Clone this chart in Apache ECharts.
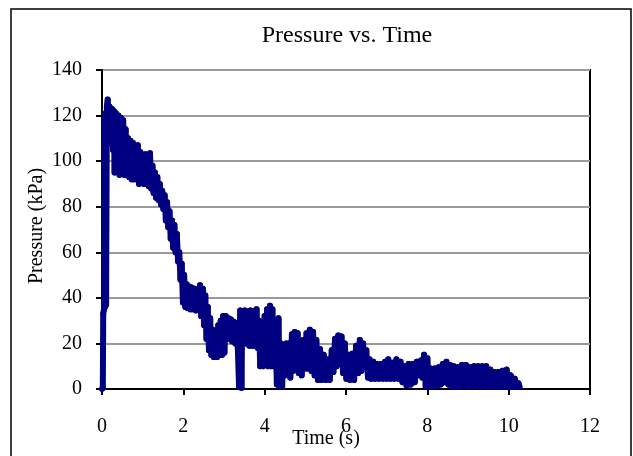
<!DOCTYPE html>
<html>
<head>
<meta charset="utf-8">
<script src="https://cdn.jsdelivr.net/npm/echarts@6/dist/echarts.min.js"></script>
<style>html,body{margin:0;padding:0;background:#fff}#c{width:633px;height:456px}</style>
</head>
<body>
<div id="c"></div>
<script>
const chartTitle = "Pressure vs. Time";
const xTitle = "Time (s)";
const yTitle = "Pressure (kPa)";
const xTicks = [0, 2, 4, 6, 8, 10, 12];
const yTicks = [0, 20, 40, 60, 80, 100, 120, 140];

const times = [
0.00,0.02,0.03,0.05,0.06,0.07,0.09,0.10,0.12,0.14,
0.16,0.18,0.21,0.24,0.27,0.29,0.31,0.34,0.37,0.40,
0.43,0.46,0.49,0.52,0.55,0.58,0.61,0.64,0.67,0.70,
0.73,0.76,0.79,0.82,0.85,0.88,0.91,0.94,0.97,1.00,
1.03,1.06,1.09,1.12,1.15,1.18,1.21,1.24,1.27,1.30,
1.33,1.36,1.39,1.42,1.45,1.48,1.51,1.54,1.57,1.60,
1.63,1.66,1.69,1.72,1.75,1.78,1.81,1.84,1.87,1.90,
1.93,1.96,1.99,2.02,2.05,2.08,2.11,2.14,2.17,2.20,
2.23,2.27,2.31,2.35,2.38,2.41,2.44,2.48,2.51,2.54,
2.57,2.60,2.63,2.66,2.69,2.72,2.75,2.79,2.83,2.86,
2.89,2.92,2.95,2.98,3.01,3.04,3.07,3.11,3.14,3.17,
3.20,3.24,3.28,3.31,3.34,3.37,3.40,3.43,3.45,3.48,
3.51,3.55,3.58,3.62,3.65,3.69,3.72,3.76,3.80,3.83,
3.86,3.89,3.92,3.96,4.00,4.03,4.06,4.09,4.13,4.16,
4.19,4.22,4.26,4.30,4.34,4.37,4.40,4.43,4.46,4.49,
4.53,4.57,4.60,4.63,4.67,4.70,4.74,4.77,4.81,4.84,
4.88,4.91,4.95,4.99,5.03,5.07,5.11,5.15,5.19,5.23,
5.27,5.31,5.36,5.40,5.45,5.50,5.55,5.60,5.65,5.69,
5.73,5.77,5.81,5.85,5.89,5.93,5.97,6.01,6.05,6.10,
6.15,6.20,6.25,6.30,6.34,6.38,6.42,6.46,6.50,6.54,
6.58,6.62,6.67,6.71,6.76,6.81,6.86,6.91,6.96,7.00,
7.04,7.09,7.14,7.19,7.24,7.29,7.34,7.39,7.44,7.49,
7.54,7.59,7.64,7.69,7.74,7.79,7.84,7.88,7.92,7.96,
8.00,8.04,8.08,8.13,8.18,8.23,8.28,8.33,8.38,8.43,
8.47,8.52,8.56,8.60,8.65,8.70,8.75,8.80,8.85,8.90,
8.95,9.00,9.05,9.10,9.15,9.20,9.25,9.30,9.35,9.40,
9.45,9.50,9.55,9.60,9.65,9.70,9.75,9.80,9.85,9.90,
9.95,10.00,10.05,10.10,10.15,10.20,10.24,10.27
];

const pressures = [
0,0.5,33,35,119,36,121,37,124,127,
110,124,108,123,105,122,95,121,96,120,
94,119,95,118,94,114,94,110,93,109,
92,108,92,105,92,107,90,104,91,101,
90,103,90,99,89,103.5,88,98,86,95,
84,93,83,90,81,87,79,85,74,82,
71,78,66,74,62,72,60,68,56,60,
48,55,38,50,36,46,35.5,45,35,44.5,
35,44,34.5,44,35,45.5,32,44,28,41,
22,36,17,31,15,26,14,23,14,28,
15,30,15,32,16,32,22,31,22,30.5,
21,29.5,20,29,18,1,34.5,0.5,34,20,
34.5,20,34,19,34.5,19,34,19,35,18,
30,10,29,10,32,11,35,10,36.5,10,
35,10,30,2,31,1,20,1,18,6,
20,10,20,5,24,8,25,10,24.5,7,
21,6,21.5,9,24.5,9,26,8,25,6,
21.5,4,17.5,4,15,4,13,4,17,7.5,
22,10,23.5,11,23,7,20,4.5,15,4,
15.5,4,19,7,21.5,8,20,10,17,5,
13,4.5,12,4.5,11,4.5,11,4.5,12,4.5,
13,4.5,11.5,4.5,13,4.5,12,3,10,1.5,
11,2,11,3,12,6,12.5,5,15,1,
13.5,1,9,1,9,1,9.5,2,11,3,
12,2,10.5,1,10,1,9.5,1,10.5,1.5,
10.5,1,9.5,1,10,1.5,10,1,10,1.5,
10,1,8.5,1,7.5,1,7.5,1,8,1,
8.5,1,6,1,4.5,1,2.5,1
];

// consecutive sample pairs -> segments [t0, p0, t1, p1]
const segments = [];
for (let i = 1; i < times.length; i++) {
  segments.push([times[i - 1], pressures[i - 1], times[i], pressures[i]]);
}
const serif = '"Liberation Serif","Times New Roman",serif';
const lineColor = '#000080';

const chart = echarts.init(document.getElementById('c'), null, {renderer: 'canvas'});
chart.setOption({
  animation: false,
  backgroundColor: '#fff',
  grid: {left: 102, right: 43, top: 70, bottom: 67, show: true, borderColor: '#000', borderWidth: 2, backgroundColor: 'transparent'},
  xAxis: {
    type: 'value', min: xTicks[0], max: xTicks[xTicks.length - 1], interval: 2,
    axisLine: {show: true, lineStyle: {color: '#000', width: 2}},
    axisTick: {show: true, length: 6, lineStyle: {color: '#000', width: 2}},
    axisLabel: {margin: 28, fontFamily: serif, fontSize: 20, color: '#000'},
    splitLine: {show: false}
  },
  yAxis: {
    type: 'value', min: yTicks[0], max: yTicks[yTicks.length - 1], interval: 20,
    axisLine: {show: true, lineStyle: {color: '#000', width: 2}},
    axisTick: {show: true, length: 6, lineStyle: {color: '#000', width: 2}},
    axisLabel: {margin: 20, fontFamily: serif, fontSize: 20, color: '#000'},
    splitLine: {show: true, lineStyle: {color: '#9a9a9a', width: 2}}
  },
  graphic: [
    {type: 'rect', shape: {x: 11, y: 9, width: 620, height: 470}, style: {fill: 'none', stroke: '#000', lineWidth: 1.5}, z: -1},
    {type: 'text', x: 347, y: 36, style: {text: chartTitle, fontFamily: serif, fontSize: 24, fill: '#000', textAlign: 'center', textVerticalAlign: 'middle'}},
    {type: 'text', x: 326, y: 439, style: {text: xTitle, fontFamily: serif, fontSize: 20, fill: '#000', textAlign: 'center', textVerticalAlign: 'middle'}},
    {type: 'text', x: 37, y: 226, rotation: Math.PI / 2, style: {text: yTitle, fontFamily: serif, fontSize: 20, fill: '#000', textAlign: 'center', textVerticalAlign: 'middle'}}
  ],
  series: [{
    type: 'custom',
    data: segments,
    encode: {x: [0, 2], y: [1, 3]},
    clip: false,
    z: 5,
    renderItem: function (params, api) {
      const a = api.coord([api.value(0), api.value(1)]);
      const b = api.coord([api.value(2), api.value(3)]);
      return {
        type: 'line',
        shape: {x1: a[0], y1: a[1], x2: b[0], y2: b[1]},
        style: {stroke: lineColor, lineWidth: 6, lineCap: 'round'}
      };
    }
  }]
});
</script>
</body>
</html>
